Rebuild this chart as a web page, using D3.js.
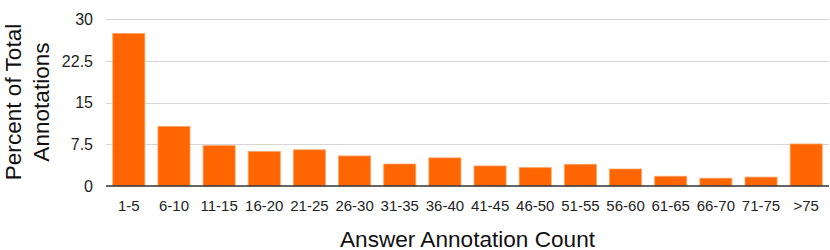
<!DOCTYPE html>
<html>
<head>
<meta charset="utf-8">
<script src="https://cdn.jsdelivr.net/npm/d3@7"></script>
<style>
  body { margin: 0; background: #fff; }
  svg { display: block; font-family: "Liberation Sans", Arial, Helvetica, sans-serif; }
</style>
</head>
<body>
<div id="bar-chart"></div>
<script>
// answer annotation count buckets
var categories = ['1-5', '6-10', '11-15', '16-20', '21-25', '26-30', '31-35', '36-40',
                  '41-45', '46-50', '51-55', '56-60', '61-65', '66-70', '71-75', '>75'];
var percents = [27.4, 10.7, 7.25, 6.2, 6.5, 5.4, 3.95, 5.05,
                3.6, 3.3, 3.9, 3.05, 1.75, 1.4, 1.6, 7.55];
var yTickValues = [0, 7.5, 15, 22.5, 30];

var width = 830, height = 250;

var x = d3.scaleBand()
  .domain(categories)
  .range([106, 829])
  .paddingInner(0.29)
  .paddingOuter(0.15);

var y = d3.scaleLinear().domain([0, 30]).range([186, 19]);

var svg = d3.select('#bar-chart')
  .append('svg')
    .attr('width', width)
    .attr('height', height);

// gridlines
svg.append('g')
  .selectAll('line')
  .data(yTickValues.slice(1))
  .enter().append('line')
    .attr('x1', 106)
    .attr('x2', 829)
    .attr('y1', function(d) { return Math.round(y(d)) + 0.5; })
    .attr('y2', function(d) { return Math.round(y(d)) + 0.5; })
    .attr('stroke', '#d6d6d6')
    .attr('stroke-width', 1.2);

// y tick labels
svg.append('g')
  .selectAll('text')
  .data(yTickValues)
  .enter().append('text')
    .attr('x', 93)
    .attr('y', function(d) { return y(d); })
    .attr('dy', '0.36em')
    .attr('text-anchor', 'end')
    .attr('font-size', 16)
    .attr('fill', '#222')
    .text(function(d) { return d; });

// bars
svg.append('g')
  .selectAll('rect')
  .data(percents)
  .enter().append('rect')
    .attr('x', function(d, i) { return x(categories[i]); })
    .attr('y', function(d) { return y(d); })
    .attr('width', x.bandwidth())
    .attr('height', function(d) { return y(0) - y(d); })
    .attr('fill', '#ff6600')
    .attr('stroke', '#ffa066')
    .attr('stroke-width', 0.8);

// baseline
svg.append('line')
  .attr('x1', 106)
  .attr('x2', 829)
  .attr('y1', y(0))
  .attr('y2', y(0))
  .attr('stroke', '#333')
  .attr('stroke-width', 1.5);

// x axis labels
var xAxis = d3.axisBottom(x).tickSize(0).tickPadding(0);
var xg = svg.append('g')
  .attr('transform', 'translate(0,' + y(0) + ')')
  .call(xAxis);
xg.select('.domain').remove();
xg.selectAll('text')
  .attr('y', 25)
  .attr('dy', 0)
  .attr('font-size', 15)
  .attr('font-family', '"Liberation Sans", Arial, sans-serif')
  .attr('fill', '#222');

// axis titles
svg.append('text')
  .attr('x', 467.5)
  .attr('y', 246.5)
  .attr('text-anchor', 'middle')
  .attr('font-size', 22.6)
  .attr('fill', '#111')
  .text('Answer Annotation Count');

var yTitle = svg.append('text')
  .attr('transform', 'translate(21,102) rotate(-90)')
  .attr('text-anchor', 'middle')
  .attr('font-size', 22.6)
  .attr('fill', '#111');
yTitle.append('tspan').attr('x', 0).attr('y', 0).text('Percent of Total');
yTitle.append('tspan').attr('x', 0).attr('y', 27.5).text('Annotations');
</script>
</body>
</html>
